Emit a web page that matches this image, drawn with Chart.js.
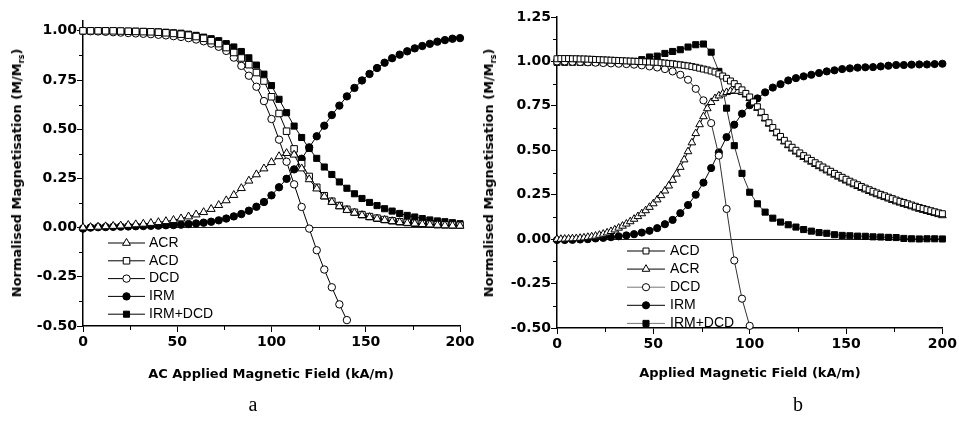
<!DOCTYPE html>
<html>
<head>
<meta charset="utf-8">
<script src="https://cdn.jsdelivr.net/npm/chart.js@4.4.1/dist/chart.umd.min.js"></script>
<style>
  body { margin: 0; background: #fff; }
  #wrap { position: relative; width: 959px; height: 421px; overflow: hidden; background: #fff; }
  canvas { position: absolute; top: 0; }
  #chartA { left: 0; }
  #chartB { left: 480px; }
  .ytitle, .xtitle { position: absolute; font: bold 13px "DejaVu Sans"; color: #000; white-space: nowrap; line-height: 1; }
  .ytitle { transform: translate(-50%, -50%) rotate(-90deg); }
  .xtitle { transform: translate(-50%, -50%); }
  .ytitle sub { font-size: 8px; vertical-align: -3px; }
  .caption { position: absolute; top: 394px; font: 20px "Liberation Serif"; line-height: 1; transform: translateX(-50%); }
</style>
</head>
<body>
<div id="wrap">
  <canvas id="chartA" width="480" height="421"></canvas>
  <canvas id="chartB" width="479" height="421"></canvas>
  <div class="ytitle" style="left:18px; top:173px;">Normalised Magnetisation (M/M<sub>rs</sub>)</div>
  <div class="ytitle" style="left:490px; top:173px;">Normalised Magnetisation (M/M<sub>rs</sub>)</div>
  <div class="xtitle" style="left:271px; top:373px;">AC Applied Magnetic Field (kA/m)</div>
  <div class="xtitle" style="left:750px; top:372px;">Applied Magnetic Field (kA/m)</div>
  <div class="caption" style="left:253px;">a</div>
  <div class="caption" style="left:798px;">b</div>
</div>
<script>
// field grids (kA/m)
const fieldStep4 = [0, 4, 8, 12, 16, 20, 24, 28, 32, 36, 40, 44, 48, 52, 56, 60, 64, 68, 72, 76, 80, 84, 88, 92, 96, 100, 104, 108, 112, 116, 120, 124, 128, 132, 136, 140, 144, 148, 152, 156, 160, 164, 168, 172, 176, 180, 184, 188, 192, 196, 200];
const fieldStep2 = [0, 2, 4, 6, 8, 10, 12, 14, 16, 18, 20, 22, 24, 26, 28, 30, 32, 34, 36, 38, 40, 42, 44, 46, 48, 50, 52, 54, 56, 58, 60, 62, 64, 66, 68, 70, 72, 74, 76, 78, 80, 82, 84, 86, 88, 90, 92, 94, 96, 98, 100, 102, 104, 106, 108, 110, 112, 114, 116, 118, 120, 122, 124, 126, 128, 130, 132, 134, 136, 138, 140, 142, 144, 146, 148, 150, 152, 154, 156, 158, 160, 162, 164, 166, 168, 170, 172, 174, 176, 178, 180, 182, 184, 186, 188, 190, 192, 194, 196, 198, 200];

// panel a
const acrA = [0.000, 0.002, 0.004, 0.006, 0.008, 0.010, 0.013, 0.016, 0.019, 0.023, 0.027, 0.032, 0.038, 0.046, 0.056, 0.066, 0.078, 0.094, 0.114, 0.138, 0.165, 0.200, 0.238, 0.270, 0.300, 0.332, 0.362, 0.378, 0.370, 0.300, 0.245, 0.198, 0.158, 0.130, 0.108, 0.089, 0.075, 0.063, 0.053, 0.045, 0.038, 0.032, 0.027, 0.023, 0.020, 0.017, 0.015, 0.013, 0.011, 0.010, 0.009];
const acdA = [1.000, 1.000, 1.000, 1.000, 1.000, 0.999, 0.998, 0.997, 0.996, 0.995, 0.993, 0.990, 0.987, 0.983, 0.978, 0.971, 0.962, 0.950, 0.935, 0.915, 0.890, 0.862, 0.828, 0.788, 0.745, 0.665, 0.580, 0.490, 0.400, 0.325, 0.260, 0.205, 0.162, 0.134, 0.112, 0.093, 0.078, 0.066, 0.056, 0.048, 0.041, 0.035, 0.030, 0.026, 0.022, 0.019, 0.017, 0.015, 0.014, 0.013, 0.012];
const dcdA = [1.000, 0.998, 0.997, 0.995, 0.993, 0.991, 0.989, 0.987, 0.985, 0.983, 0.980, 0.977, 0.973, 0.969, 0.963, 0.956, 0.947, 0.935, 0.919, 0.898, 0.864, 0.822, 0.772, 0.716, 0.643, 0.552, 0.447, 0.335, 0.220, 0.105, -0.005, -0.115, -0.213, -0.303, -0.390, -0.470];
const irmA = [-0.005, 0.000, 0.002, 0.003, 0.004, 0.005, 0.006, 0.007, 0.008, 0.009, 0.010, 0.012, 0.013, 0.015, 0.018, 0.021, 0.025, 0.030, 0.037, 0.046, 0.057, 0.069, 0.086, 0.106, 0.130, 0.164, 0.205, 0.248, 0.296, 0.350, 0.408, 0.464, 0.518, 0.572, 0.620, 0.667, 0.710, 0.748, 0.781, 0.811, 0.838, 0.861, 0.879, 0.896, 0.911, 0.923, 0.934, 0.945, 0.953, 0.960, 0.963];
const irmDcdA = [1.000, 1.000, 1.000, 1.000, 0.999, 0.999, 0.998, 0.998, 0.997, 0.996, 0.995, 0.993, 0.990, 0.988, 0.983, 0.977, 0.968, 0.960, 0.950, 0.935, 0.918, 0.895, 0.863, 0.826, 0.780, 0.722, 0.652, 0.584, 0.516, 0.458, 0.402, 0.352, 0.308, 0.270, 0.232, 0.200, 0.172, 0.148, 0.128, 0.112, 0.096, 0.084, 0.072, 0.062, 0.054, 0.046, 0.039, 0.034, 0.030, 0.025, 0.020];

// panel b
const acdB = [1.015, 1.016, 1.016, 1.016, 1.015, 1.015, 1.014, 1.014, 1.013, 1.012, 1.011,
  1.010, 1.009, 1.008, 1.007, 1.006, 1.005, 1.004, 1.003, 1.002, 1.001,
  1.000, 0.999, 0.998, 0.997, 0.996, 0.995, 0.993, 0.991, 0.989, 0.987,
  0.984, 0.981, 0.978, 0.975, 0.971, 0.967, 0.962, 0.957, 0.952, 0.946,
  0.940, 0.930, 0.918, 0.905, 0.890, 0.875, 0.858, 0.840, 0.820, 0.800,
  0.772, 0.745, 0.715, 0.685, 0.655, 0.628, 0.602, 0.578, 0.556, 0.535,
  0.517, 0.500, 0.485, 0.470, 0.456, 0.443, 0.430, 0.418, 0.406, 0.394,
  0.382, 0.370, 0.359, 0.348, 0.337, 0.326, 0.316, 0.306, 0.296, 0.287,
  0.278, 0.269, 0.260, 0.252, 0.244, 0.236, 0.228, 0.220, 0.213, 0.206,
  0.199, 0.192, 0.185, 0.178, 0.172, 0.166, 0.160, 0.154, 0.148, 0.143];
const acrB = [0.000, 0.000, 0.001, 0.002, 0.003, 0.004, 0.006, 0.008, 0.011, 0.014, 0.018,
  0.023, 0.029, 0.036, 0.044, 0.053, 0.063, 0.074, 0.086, 0.099, 0.113,
  0.128, 0.144, 0.161, 0.180, 0.200, 0.222, 0.246, 0.272, 0.300, 0.332,
  0.367, 0.405, 0.447, 0.493, 0.543, 0.595, 0.645, 0.690, 0.735, 0.770,
  0.792, 0.807, 0.818, 0.826, 0.832, 0.835, 0.833, 0.826, 0.812, 0.792,
  0.765, 0.737, 0.707, 0.677, 0.648, 0.620, 0.594, 0.570, 0.548, 0.527,
  0.508, 0.491, 0.476, 0.461, 0.447, 0.434, 0.421, 0.409, 0.397, 0.385,
  0.373, 0.361, 0.350, 0.339, 0.328, 0.317, 0.307, 0.297, 0.287, 0.278,
  0.269, 0.260, 0.251, 0.243, 0.235, 0.227, 0.219, 0.211, 0.204, 0.197,
  0.190, 0.183, 0.176, 0.169, 0.163, 0.157, 0.151, 0.145, 0.139, 0.133];
const dcdB = [1.000, 1.000, 0.998, 0.997, 0.995, 0.993, 0.991, 0.989, 0.987, 0.985, 0.982, 0.978, 0.972, 0.966, 0.957, 0.944, 0.925, 0.897, 0.846, 0.781, 0.653, 0.470, 0.170, -0.120, -0.335, -0.488];
const irmB = [-0.005, -0.005, -0.004, -0.002, 0.000, 0.004, 0.007, 0.011, 0.016, 0.021, 0.028, 0.037, 0.047, 0.062, 0.084, 0.108, 0.146, 0.192, 0.250, 0.318, 0.400, 0.488, 0.574, 0.644, 0.706, 0.754, 0.792, 0.826, 0.853, 0.872, 0.893, 0.906, 0.916, 0.925, 0.935, 0.944, 0.950, 0.957, 0.961, 0.965, 0.967, 0.968, 0.972, 0.976, 0.980, 0.980, 0.982, 0.983, 0.983, 0.985, 0.987];
const irmDcdB = [0.995, 0.995, 0.995, 0.995, 0.995, 0.995, 0.995, 0.996, 0.997, 0.998, 1.000, 1.010, 1.025, 1.030, 1.045, 1.056, 1.066, 1.081, 1.094, 1.098, 1.052, 0.944, 0.737, 0.526, 0.370, 0.264, 0.199, 0.152, 0.118, 0.096, 0.081, 0.068, 0.054, 0.045, 0.037, 0.033, 0.025, 0.021, 0.019, 0.017, 0.016, 0.013, 0.012, 0.010, 0.009, 0.004, 0.002, 0.001, 0.002, 0.002, 0.001];

// axis ticks
const xTicks = [0, 25, 50, 75, 100, 125, 150, 175, 200];
const yTicksA = [-0.5, -0.375, -0.25, -0.125, 0, 0.125, 0.25, 0.375, 0.5, 0.625, 0.75, 0.875, 1.0];
const yTicksB = [-0.5, -0.375, -0.25, -0.125, 0, 0.125, 0.25, 0.375, 0.5, 0.625, 0.75, 0.875, 1.0, 1.125, 1.25];

const tickFont = { family: "DejaVu Sans", size: 14, weight: "bold" };
const isMajorX = (v) => v % 50 === 0;
const isMajorY = (v) => Math.abs(v * 4 - Math.round(v * 4)) < 1e-9;

function series(label, xs, ys, style, filled, radius, line) {
  return {
    label: label,
    data: ys.map((y, i) => ({ x: xs[i], y: y })),
    pointStyle: style,
    pointRadius: radius,
    pointHoverRadius: radius,
    pointBorderWidth: 1,
    pointBorderColor: "#000",
    pointBackgroundColor: filled ? "#000" : "#fff",
    borderColor: line || "#000",
    borderWidth: 1,
    showLine: true,
    fill: false,
    tension: 0,
    clip: false,
  };
}

function drawMarker(ctx, style, x, y, r, filled) {
  ctx.beginPath();
  if (style === "circle") {
    ctx.arc(x, y, r, 0, Math.PI * 2);
  } else if (style === "rect") {
    const s = r * Math.SQRT1_2;
    ctx.rect(x - s, y - s, 2 * s, 2 * s);
  } else {
    let rad = 0;
    ctx.moveTo(x + Math.sin(rad) * r, y - Math.cos(rad) * r);
    rad += (Math.PI * 2) / 3;
    ctx.lineTo(x + Math.sin(rad) * r, y - Math.cos(rad) * r);
    rad += (Math.PI * 2) / 3;
    ctx.lineTo(x + Math.sin(rad) * r, y - Math.cos(rad) * r);
    ctx.closePath();
  }
  ctx.fillStyle = filled ? "#000" : "#fff";
  ctx.fill();
  ctx.strokeStyle = "#000";
  ctx.lineWidth = 1;
  ctx.stroke();
}

// Origin style legend: short line with the marker in the middle
const markerLegend = {
  id: "markerLegend",
  afterDraw(chart, args, opts) {
    const ctx = chart.ctx;
    ctx.save();
    chart.data.datasets.forEach((ds, i) => {
      const y = opts.y0 + i * opts.step;
      ctx.strokeStyle = opts.lineColors[i];
      ctx.lineWidth = 1;
      ctx.beginPath();
      ctx.moveTo(opts.x1, y);
      ctx.lineTo(opts.x2, y);
      ctx.stroke();
      drawMarker(ctx, ds.pointStyle, (opts.x1 + opts.x2) / 2, y, ds.pointRadius, ds.pointBackgroundColor === "#000");
      ctx.fillStyle = "#000";
      ctx.font = '14px "Liberation Sans"';
      ctx.textBaseline = "middle";
      ctx.fillText(ds.label, opts.textX, y);
    });
    ctx.restore();
  },
};

// short minor ticks
const minorTicks = {
  id: "minorTicks",
  afterDraw(chart) {
    const ctx = chart.ctx;
    const xs = chart.scales.x;
    const ys = chart.scales.y;
    ctx.save();
    ctx.strokeStyle = "#000";
    ctx.lineWidth = 1;
    xs.ticks.forEach((t) => {
      if (!isMajorX(t.value)) {
        const px = Math.round(xs.getPixelForValue(t.value)) + 0.5;
        ctx.beginPath();
        ctx.moveTo(px, xs.top);
        ctx.lineTo(px, xs.top + 4);
        ctx.stroke();
      }
    });
    ys.ticks.forEach((t) => {
      if (!isMajorY(t.value)) {
        const py = Math.round(ys.getPixelForValue(t.value)) + 0.5;
        ctx.beginPath();
        ctx.moveTo(ys.right, py);
        ctx.lineTo(ys.right - 4, py);
        ctx.stroke();
      }
    });
    ctx.restore();
  },
};

function makeChart(id, datasets, yTicks, yMax, pad, yWidth, xHeight, legend) {
  const ctx = document.getElementById(id).getContext("2d");
  return new Chart(ctx, {
    type: "line",
    data: { datasets: datasets },
    plugins: [minorTicks, markerLegend],
    options: {
      responsive: false,
      animation: false,
      events: [],
      layout: { padding: pad },
      plugins: {
        legend: { display: false },
        tooltip: { enabled: false },
        markerLegend: legend,
      },
      scales: {
        x: {
          type: "linear",
          min: 0,
          max: 200,
          afterBuildTicks: (axis) => {
            axis.ticks = xTicks.map((v) => ({ value: v }));
          },
          afterFit: (s) => {
            s.height = xHeight;
          },
          ticks: {
            autoSkip: false,
            maxRotation: 0,
            padding: 2,
            color: "#000",
            font: tickFont,
            callback: (v) => (isMajorX(v) ? String(v) : ""),
          },
          grid: {
            drawOnChartArea: false,
            drawTicks: true,
            tickLength: 6,
            tickWidth: 1,
            tickColor: (c) => (c.tick && isMajorX(c.tick.value) ? "#000" : "rgba(0,0,0,0)"),
          },
          border: { display: true, color: "#000", width: 1.5 },
        },
        y: {
          type: "linear",
          min: -0.5,
          max: yMax,
          afterBuildTicks: (axis) => {
            axis.ticks = yTicks.map((v) => ({ value: v }));
          },
          afterFit: (s) => {
            s.width = yWidth;
          },
          ticks: {
            autoSkip: false,
            padding: 0,
            color: "#000",
            font: tickFont,
            callback: (v) => (isMajorY(v) ? v.toFixed(2) : ""),
          },
          grid: {
            drawOnChartArea: true,
            drawTicks: true,
            tickLength: 6,
            tickWidth: 1,
            lineWidth: 1,
            color: (c) => (c.tick && c.tick.value === 0 ? "#222" : "rgba(0,0,0,0)"),
            tickColor: (c) => (c.tick && isMajorY(c.tick.value) ? "#000" : "rgba(0,0,0,0)"),
          },
          border: { display: true, color: "#000", width: 1.5 },
        },
      },
    },
  });
}

makeChart(
  "chartA",
  [
    series("ACR", fieldStep4, acrA, "triangle", false, 4.6),
    series("ACD", fieldStep4, acdA, "rect", false, 4.6),
    series("DCD", fieldStep4, dcdA, "circle", false, 3.7),
    series("IRM", fieldStep4, irmA, "circle", true, 3.7),
    series("IRM+DCD", fieldStep4, irmDcdA, "rect", true, 4.3),
  ],
  yTicksA,
  1.05,
  { left: 0, right: 20, top: 21, bottom: 0 },
  83,
  95,
  { x1: 108, x2: 145, textX: 149, y0: 243, step: 17.8, lineColors: ["#000", "#000", "#000", "#000", "#000"] }
);

makeChart(
  "chartB",
  [
    series("ACD", fieldStep2, acdB, "rect", false, 4.2),
    series("ACR", fieldStep2, acrB, "triangle", false, 4.4),
    series("DCD", fieldStep4, dcdB, "circle", false, 3.6, "#333"),
    series("IRM", fieldStep4, irmB, "circle", true, 3.6),
    series("IRM+DCD", fieldStep4, irmDcdB, "rect", true, 4.3, "#333"),
  ],
  yTicksB,
  1.25,
  { left: 0, right: 15, top: 17, bottom: 0 },
  77,
  93,
  { x1: 147, x2: 185, textX: 190, y0: 251, step: 18.1, lineColors: ["#000", "#000", "#777", "#000", "#777"] }
);
</script>
</body>
</html>
